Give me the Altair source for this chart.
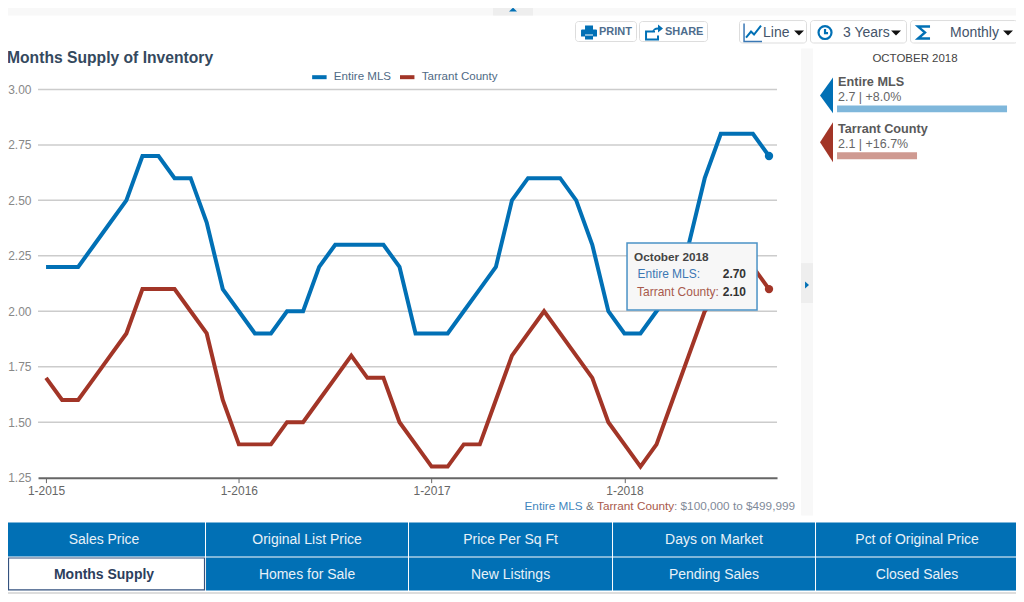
import altair as alt
import pandas as pd

# ---------- data ----------
MONTHS = [f"{m}-{y}" for y in (2015, 2016, 2017) for m in range(1, 13)] + [f"{m}-2018" for m in range(1, 11)]
ENTIRE_MLS = [2.2, 2.2, 2.2, 2.3, 2.4, 2.5, 2.7, 2.7, 2.6, 2.6, 2.4, 2.1,
              2.0, 1.9, 1.9, 2.0, 2.0, 2.2, 2.3, 2.3, 2.3, 2.3, 2.2, 1.9,
              1.9, 1.9, 2.0, 2.1, 2.2, 2.5, 2.6, 2.6, 2.6, 2.5, 2.3, 2.0,
              1.9, 1.9, 2.0, 2.1, 2.3, 2.6, 2.8, 2.8, 2.8, 2.7]
TARRANT = [1.7, 1.6, 1.6, 1.7, 1.8, 1.9, 2.1, 2.1, 2.1, 2.0, 1.9, 1.6,
           1.4, 1.4, 1.4, 1.5, 1.5, 1.6, 1.7, 1.8, 1.7, 1.7, 1.5, 1.4,
           1.3, 1.3, 1.4, 1.4, 1.6, 1.8, 1.9, 2.0, 1.9, 1.8, 1.7, 1.5,
           1.4, 1.3, 1.4, 1.6, 1.8, 2.0, 2.1, 2.2, 2.2, 2.1]
SERIES = ["Entire MLS", "Tarrant County"]
Y_TICKS = [1.25, 1.5, 1.75, 2.0, 2.25, 2.5, 2.75, 3.0]
GRID_VALUES = [1.5, 1.75, 2.0, 2.25, 2.5, 2.75, 3.0]
X_TICKS = ["1-2015", "1-2016", "1-2017", "1-2018"]
TABS_TOP = ["Sales Price", "Original List Price", "Price Per Sq Ft", "Days on Market", "Pct of Original Price"]
TABS_BOTTOM = ["Months Supply", "Homes for Sale", "New Listings", "Pending Sales", "Closed Sales"]
TITLE = "Months Supply of Inventory"
PERIOD = "OCTOBER 2018"
TOOLTIP_TITLE = "October 2018"
SUMMARY = ["2.7 | +8.0%", "2.1 | +16.7%"]
TOOLTIP_VALUES = ["2.70", "2.10"]

BLUE = "#0170b5"
RED = "#a23527"
FONT = "Liberation Sans"
W, H = 1010, 586
OX = OY = 8


def fx(x):
    return x * 1.002 - OX


df = pd.DataFrame({
    "month": MONTHS * 2,
    "idx": list(range(len(MONTHS))) * 2,
    "series": [SERIES[0]] * len(MONTHS) + [SERIES[1]] * len(MONTHS),
    "value": ENTIRE_MLS + TARRANT,
})
last = df[df.month == MONTHS[-1]]
grid_df = pd.DataFrame({"value": GRID_VALUES})
blank = alt.Data(values=[{}])

x_scale = alt.Scale(domain=MONTHS, range=[fx(38), fx(777)])
y_scale = alt.Scale(domain=[1.25, 3], range=[478 - OY, 89 - OY], nice=False, zero=False)
color_scale = alt.Scale(domain=SERIES, range=[BLUE, RED])

x_enc = alt.X("month:N", sort=MONTHS, title=None, scale=x_scale,
              axis=alt.Axis(values=X_TICKS, labelAngle=0, offset=-(H - (478 - OY)),
                            domainColor="#666666", domainWidth=2, tickColor="#666666", tickSize=5, tickWidth=1,
                            labelColor="#666666", labelFont=FONT, labelFontSize=12, labelPadding=3,
                            labelOverlap=False, grid=False))
y_enc = alt.Y("value:Q", title=None, scale=y_scale,
              axis=alt.Axis(values=Y_TICKS, format=".2f", offset=-(38 - OX), domain=False, ticks=False, grid=False,
                            labelColor="#888888", labelFont=FONT, labelFontSize=12, labelPadding=7))
color_enc = alt.Color("series:N", title=None, scale=color_scale,
                      legend=alt.Legend(orient="none", legendX=310.5 - OX, legendY=67 - OY, direction="horizontal",
                                        symbolType="stroke", symbolStrokeWidth=4, symbolSize=210,
                                        labelFont=FONT, labelFontSize=11.6, labelColor="#4f6a85",
                                        columnPadding=0, labelOffset=5, padding=0))


def rect(x1, y1, x2, y2, fill, stroke=None, sw=0, radius=0):
    kw = dict(fill=fill, strokeWidth=sw)
    if stroke:
        kw["stroke"] = stroke
    if radius:
        kw["cornerRadius"] = radius
    return alt.Chart(blank).mark_rect(**kw).encode(
        x=alt.value(fx(x1)), x2=alt.value(fx(x2)), y=alt.value(y1 - OY), y2=alt.value(y2 - OY))


def text(s, x, y, size=12, color="#666666", weight="normal", align="left"):
    return alt.Chart(blank).mark_text(font=FONT, fontSize=size, color=color, fontWeight=weight,
                                      align=align, baseline="middle").encode(
        x=alt.value(fx(x)), y=alt.value(y - OY), text=alt.value(s))


def glyph(path, x, y, fill=BLUE, stroke=None, sw=0):
    kw = dict(shape=path, size=4, strokeWidth=sw, opacity=1)
    if fill:
        kw.update(filled=True, fill=fill)
    else:
        kw.update(filled=False, fill="transparent")
    if stroke:
        kw["stroke"] = stroke
    return alt.Chart(blank).mark_point(**kw).encode(x=alt.value(fx(x)), y=alt.value(y - OY))


grid = alt.Chart(grid_df).mark_rule(color="#cccccc", strokeWidth=1.5).encode(
    x=alt.value(fx(38)), x2=alt.value(fx(777)), y=y_enc)
lines = alt.Chart(df).mark_line(strokeWidth=4, strokeJoin="miter", interpolate="linear").encode(
    x=x_enc, y=y_enc, color=color_enc, order=alt.Order("idx:Q"))
dots = alt.Chart(last).mark_circle(size=70, opacity=1).encode(x=x_enc, y=y_enc, color=color_enc)

chrome = []
# top band
chrome += [rect(0, 5, 1030, 15, "#f8f8f8"), rect(0, 4, 1030, 5, "#e9e9e9"),
           rect(493, 5, 533, 15, "#eeeeee"), glyph("M-4 2 L0 -2 L4 2Z", 513, 9)]
# toolbar buttons
chrome += [rect(575.5, 21, 636.5, 41, "#ffffff", "#dddddd", 1, 3),
           rect(639.5, 21, 707.5, 41, "#ffffff", "#dddddd", 1, 3),
           text("PRINT", 599, 31.5, 11, "#4e6d8d", "bold"), text("SHARE", 665, 31.5, 11, "#4e6d8d", "bold"),
           glyph("M-4 -7 H4 V-3 H7 Q8 -3 8 -2 V4 H4 V2 H-4 V4 H-8 V-2 Q-8 -3 -7 -3 H-4Z M-4 3 H4 V7 H-4Z", 589, 32),
           glyph("M3 -2 H-6 V6 H6 V2", 652, 33, None, BLUE, 2),
           glyph("M-2 2 Q-1 -3 4 -3 V-6 L9 -2 L4 2 V-1 Q0 -1 -2 2Z", 654, 30),
           rect(739.5, 20, 806.5, 42.5, "#ffffff", "#dddddd", 1, 3),
           rect(810.5, 20, 906.5, 42.5, "#ffffff", "#dddddd", 1, 3),
           rect(910.5, 20, 1017.5, 42.5, "#ffffff", "#dddddd", 1, 3),
           glyph("M-9 -9 V9 H9", 753, 32, None, "#3a78b5", 1.5),
           glyph("M-7 6 L-2 0 L1 3 L8 -6", 753, 31, None, BLUE, 2),
           text("Line", 763, 32, 14, "#44546a"), glyph("M-5 -2.5 H5 L0 2.5Z", 799, 32.5, "#111111"),
           glyph("M-6.5 0 A6.5 6.5 0 1 1 6.5 0 A6.5 6.5 0 1 1 -6.5 0Z M0 -3.5 V0.5 H3", 825, 32, None, BLUE, 2.2),
           text("3 Years", 843, 32, 14, "#44546a"), glyph("M-5 -2.5 H5 L0 2.5Z", 896, 32.5, "#111111"),
           glyph("M6 -6 H-6 L1 0 L-6 6 H6", 924, 32, None, BLUE, 2.4),
           text("Monthly", 950, 32, 14, "#44546a"), glyph("M-5 -2.5 H5 L0 2.5Z", 1008, 32.5, "#111111")]
# title and footer
chrome += [text(TITLE, 7, 57.5, 15.7, "#34495e", "bold"),
           text(SERIES[0], 524.5, 506, 11.8, "#3f86bd"), text("&", 586, 506, 11.8, "#777777"),
           text(SERIES[1], 597, 506, 11.8, "#a85a4c"), text(": $100,000 to $499,999", 674, 506, 11.8, "#7f8a99")]
# right-hand panel
chrome += [rect(801, 48, 813, 516, "#f8f8f8"), rect(801, 263, 813, 303, "#eeeeee"),
           glyph("M-2 -3.5 L2 0 L-2 3.5Z", 807, 285),
           text(PERIOD, 915, 58.5, 11.5, "#444444", align="center"),
           glyph("M0 0 L13 -18 V18Z", 820, 95, BLUE), glyph("M0 0 L13 -20 V20Z", 820, 142, RED),
           text(SERIES[0], 838, 82, 12.7, "#595959", "bold"), text(SUMMARY[0], 838, 97, 12.5, "#666666"),
           rect(837, 105, 1007, 112, "#7fb7db"),
           text(SERIES[1], 838, 129, 12.7, "#595959", "bold"), text(SUMMARY[1], 838, 144, 12.5, "#666666"),
           rect(837, 152, 917, 159, "#cf9a91")]
# tooltip
chrome += [rect(627, 243, 757, 310, "#f7f7f7", "#4b92c6", 1.5),
           text(TOOLTIP_TITLE, 634, 257, 11.8, "#444444", "bold"),
           text(SERIES[0] + ":", 637.5, 274, 12, "#3c78b4"), text(TOOLTIP_VALUES[0], 746, 274, 12, "#333333", "bold", "right"),
           text(SERIES[1] + ":", 637, 291.5, 12, "#a85a4c"), text(TOOLTIP_VALUES[1], 746, 291.5, 12, "#333333", "bold", "right")]
# tab grid
COLS = [(3, 205), (206, 408), (409, 612), (613, 815), (816, 1018)]
for (a, b), label in zip(COLS, TABS_TOP):
    chrome += [rect(a, 523, b, 557, BLUE), text(label, (a + b) / 2, 540.5, 14, "#e8f1f8", align="center")]
for i, ((a, b), label) in enumerate(zip(COLS, TABS_BOTTOM)):
    if i == 0:
        chrome += [rect(8.5, 558.5, b - .5, 590.5, "#ffffff", "#34527f", 1.2),
                   text(label, (a + b) / 2, 575.5, 14, "#2c3e5c", "bold", "center")]
    else:
        chrome += [rect(a, 558, b, 591, BLUE), text(label, (a + b) / 2, 575.5, 14, "#e8f1f8", align="center")]
chrome += [rect(0, 593, 1030, 594, "#bbbbbb")]

chart = alt.layer(grid, lines, dots, *chrome).resolve_scale(x="shared", y="shared", color="shared").properties(
    width=W, height=H, padding=0, autosize=alt.AutoSizeParams(type="none"), background="#ffffff"
).configure_view(stroke=None)

chart.save("out.html", embed_options={"renderer": "svg", "actions": False})
